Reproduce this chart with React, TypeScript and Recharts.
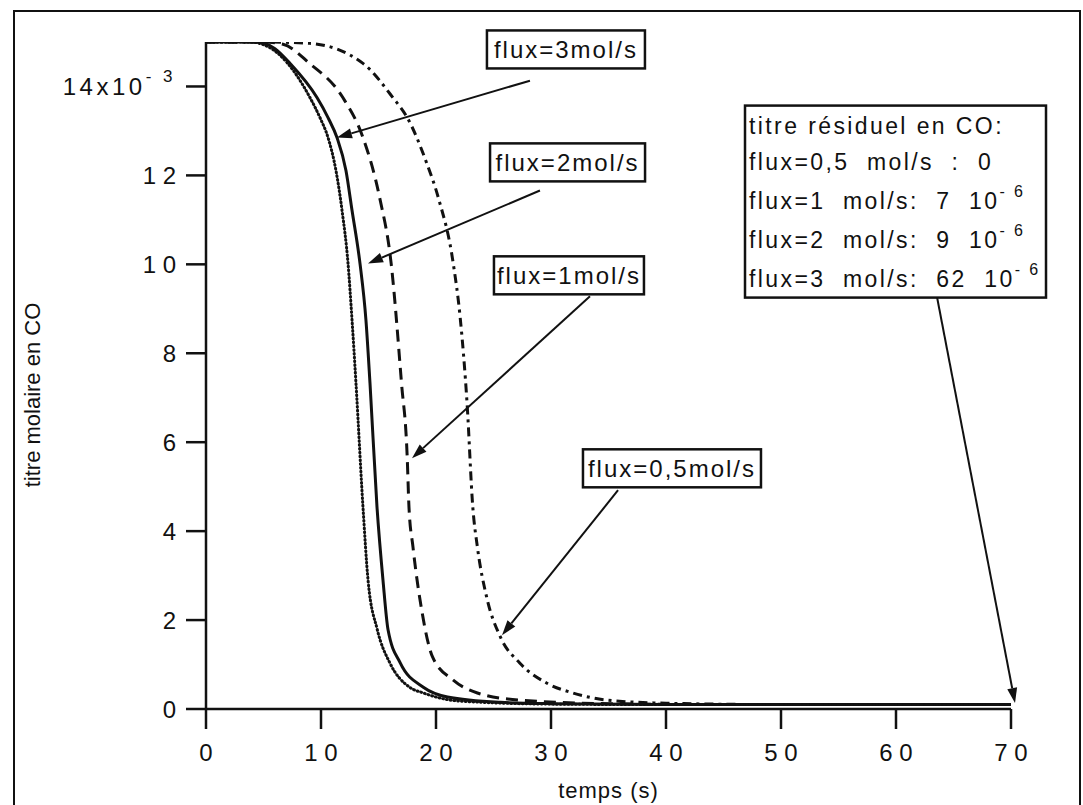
import React from "react";
import { LineChart, Line, XAxis, YAxis, ReferenceLine, ReferenceDot } from "recharts";

// temps (s) and titre molaire en CO
const tFlux3 = [0, 3.8, 5.5, 7.1, 9.04, 9.91, 10.61, 11.3, 11.83, 12.35, 12.7, 13.04, 13.65, 14.09, 14.9, 16.0, 17.7, 18.9, 22, 30, 40, 55, 70];
const cFlux3 = [0.015, 0.015, 0.01488, 0.01452, 0.01375, 0.0133, 0.01285, 0.01211, 0.01121, 0.01002, 0.00874, 0.00733, 0.00454, 0.0029, 0.00178, 0.00103, 0.00049, 0.00036, 0.00018, 0.00011, 0.0001, 0.0001, 0.0001];

const tFlux2 = [0, 4.4, 6, 7.3, 9.65, 10.61, 11.39, 12.17, 12.7, 13.39, 13.91, 14.26, 14.87, 15.39, 15.83, 16.9, 18.9, 21.0, 25.6, 30, 40, 55, 70];
const cFlux2 = [0.015, 0.015, 0.01485, 0.01452, 0.01375, 0.0133, 0.01285, 0.01211, 0.01121, 0.01002, 0.00874, 0.00733, 0.00454, 0.0029, 0.00178, 0.00103, 0.00049, 0.00027, 0.00015, 0.00012, 0.0001, 0.0001, 0.0001];

const tFlux1 = [0, 5, 6.7, 9.0, 11.9, 13.65, 15.1, 16.1, 17.0, 17.5, 17.65, 18.0, 18.8, 19.7, 21.5, 23.6, 27.3, 35, 45, 70];
const cFlux1 = [0.015, 0.015, 0.01495, 0.01452, 0.01375, 0.01285, 0.0115, 0.01002, 0.00733, 0.00564, 0.00454, 0.00364, 0.00216, 0.00117, 0.00065, 0.00036, 0.0002, 0.00012, 0.0001, 0.0001];

const tFlux05 = [0, 5, 9.0, 13.65, 16.25, 17.5, 19.2, 20.2, 21.5, 22.1, 22.7, 23.2, 23.6, 24.4, 25.6, 27.3, 29.65, 31.9, 34.9, 40, 50, 70];
const cFlux05 = [0.015, 0.015, 0.01497, 0.01452, 0.01375, 0.0133, 0.01227, 0.0115, 0.01002, 0.00881, 0.00688, 0.00454, 0.00364, 0.00252, 0.00162, 0.00103, 0.00058, 0.00036, 0.0002, 0.00013, 0.0001, 0.0001];

const xTicks = [0, 10, 20, 30, 40, 50, 60, 70];
const yTicks = [0, 0.002, 0.004, 0.006, 0.008, 0.01, 0.012, 0.014];

const residualLines = [
  { text: "titre résiduel en CO:", sup: "" },
  { text: "flux=0,5  mol/s  :  0", sup: "" },
  { text: "flux=1  mol/s:  7  10", sup: "- 6" },
  { text: "flux=2  mol/s:  9  10", sup: "- 6" },
  { text: "flux=3  mol/s:  62  10", sup: "- 6" },
];

// labels: text, top-left anchor (t, c)
const labels = [
  { text: "flux=3mol/s", t: 24.43, c: 0.01526, w: 158 },
  { text: "flux=2mol/s", t: 24.7, c: 0.01272, w: 155 },
  { text: "flux=1mol/s", t: 25.04, c: 0.01018, w: 150 },
  { text: "flux=0,5mol/s", t: 32.78, c: 0.00584, w: 178 },
];

// arrows: from (t, c) to (t, c)
const arrows = [
  [28.17, 0.01413, 11.39, 0.01285],
  [29.04, 0.01166, 14.09, 0.01002],
  [33.39, 0.00928, 17.91, 0.00564],
  [35.83, 0.00492, 25.74, 0.00166],
  [63.57, 0.00926, 70.35, 0.000135],
];

const ink = "#111";
const font = "'Liberation Sans', Arial, sans-serif";

const pts = (t: number[], c: number[]) => t.map((x, i) => ({ t: x, c: c[i] }));

const spaced = (n: number) => String(n).split("").join(" ");

function XTick({ x, y, payload }: any) {
  return (
    <text x={x} y={y} dy="0.71em" textAnchor="middle" fontSize={24} fontFamily={font} fill={ink}>
      {spaced(payload.value)}
    </text>
  );
}

function YTick({ x, y, payload }: any) {
  const v = Math.round(payload.value * 1000);
  if (v === 14) {
    return (
      <text x={x} y={y} dy="0.36em" textAnchor="end" fontSize={24} fontFamily={font} fill={ink} letterSpacing={3.5}>
        14x10
        <tspan dy={-13} fontSize={17}>- 3</tspan>
      </text>
    );
  }
  return (
    <text x={x} y={y} dy="0.36em" textAnchor="end" fontSize={24} fontFamily={font} fill={ink}>
      {spaced(v)}
    </text>
  );
}

function Arrow(props: any) {
  const { x1, y1, x2, y2 } = props;
  const a = Math.atan2(y2 - y1, x2 - x1);
  const L = 15;
  const W = 5;
  const bx = x2 - L * Math.cos(a);
  const by = y2 - L * Math.sin(a);
  const p1 = `${bx + W * Math.sin(a)},${by - W * Math.cos(a)}`;
  const p2 = `${bx - W * Math.sin(a)},${by + W * Math.cos(a)}`;
  return (
    <g>
      <line x1={x1} y1={y1} x2={bx} y2={by} stroke={ink} strokeWidth={2} />
      <polygon points={`${x2},${y2} ${p1} ${p2}`} fill={ink} />
    </g>
  );
}

const boxShape = (text: string, w: number) => (props: any) => {
  const { cx, cy } = props;
  return (
    <g>
      <rect x={cx} y={cy} width={w} height={38} fill="#fff" stroke={ink} strokeWidth={2.5} />
      <text x={cx + w / 2} y={cy + 19} dy="0.36em" textAnchor="middle" fontSize={24} fontFamily={font} fill={ink} letterSpacing={2}>
        {text}
      </text>
    </g>
  );
};

function ResidualBox(props: any) {
  const { cx, cy } = props;
  const base = [28, 64, 103, 142, 181];
  return (
    <g>
      <rect x={cx} y={cy} width={301} height={192} fill="#fff" stroke={ink} strokeWidth={2.5} />
      {residualLines.map((l, i) => (
        <text key={i} x={cx + 4} y={cy + base[i]} fontSize={23} fontFamily={font} fill={ink} letterSpacing={2.4} style={{ whiteSpace: "pre" }}>
          {l.text}
          {l.sup && <tspan dy={-12} fontSize={16}>{l.sup}</tspan>}
        </text>
      ))}
    </g>
  );
}

export default function App() {
  return (
    <div style={{ position: "absolute", left: 0, top: 0, width: 1083, height: 805, overflow: "hidden", background: "#fff" }}>
      <div style={{ position: "absolute", left: 13, top: 10, width: 1064, height: 900, border: `2px solid ${ink}` }} />
      <div style={{ position: "absolute", left: 0, top: 0 }}>
        <LineChart width={1083} height={805} margin={{ top: 42, right: 72, left: 6, bottom: 36 }}>
          <XAxis
            type="number"
            dataKey="t"
            domain={[0, 70]}
            ticks={xTicks}
            height={60}
            tickSize={20}
            tickMargin={15}
            tick={<XTick />}
            axisLine={{ stroke: ink, strokeWidth: 2.5 }}
            tickLine={{ stroke: ink, strokeWidth: 2.5 }}
            allowDataOverflow
            label={{
              content: ({ viewBox }: any) => (
                <text x={viewBox.x + viewBox.width / 2} y={viewBox.y + 89} textAnchor="middle" fontSize={22} fontFamily={font} fill={ink} letterSpacing={1}>
                  temps (s)
                </text>
              ),
            }}
          />
          <YAxis
            type="number"
            domain={[0, 0.015]}
            ticks={yTicks}
            width={200}
            tickSize={20}
            tickMargin={10}
            tick={<YTick />}
            axisLine={{ stroke: ink, strokeWidth: 2.5 }}
            tickLine={{ stroke: ink, strokeWidth: 2.5 }}
            allowDataOverflow
            label={{
              content: () => (
                <text x={40} y={395} transform="rotate(-90 40 395)" textAnchor="middle" fontSize={22} fontFamily={font} fill={ink}>
                  titre molaire en CO
                </text>
              ),
            }}
          />
          <Line data={pts(tFlux3, cFlux3)} dataKey="c" type="monotone" stroke={ink} strokeWidth={3} strokeDasharray="0.8 3" strokeLinecap="round" dot={false} isAnimationActive={false} />
          <Line data={pts(tFlux2, cFlux2)} dataKey="c" type="monotone" stroke={ink} strokeWidth={3} dot={false} isAnimationActive={false} />
          <Line data={pts(tFlux1, cFlux1)} dataKey="c" type="monotone" stroke={ink} strokeWidth={3} strokeDasharray="12 7" dot={false} isAnimationActive={false} />
          <Line data={pts(tFlux05, cFlux05)} dataKey="c" type="monotone" stroke={ink} strokeWidth={3} strokeDasharray="9 5 3 5" dot={false} isAnimationActive={false} />
          {arrows.map((a, i) => (
            <ReferenceLine
              key={`a${i}`}
              segment={[{ x: a[0], y: a[1] }, { x: a[2], y: a[3] }]}
              ifOverflow="visible"
              shape={Arrow}
            />
          ))}
          {labels.map((l, i) => (
            <ReferenceDot key={`l${i}`} x={l.t} y={l.c} r={0} ifOverflow="visible" shape={boxShape(l.text, l.w)} />
          ))}
          <ReferenceDot x={46.87} y={0.01357} r={0} ifOverflow="visible" shape={ResidualBox} />
        </LineChart>
      </div>
    </div>
  );
}
